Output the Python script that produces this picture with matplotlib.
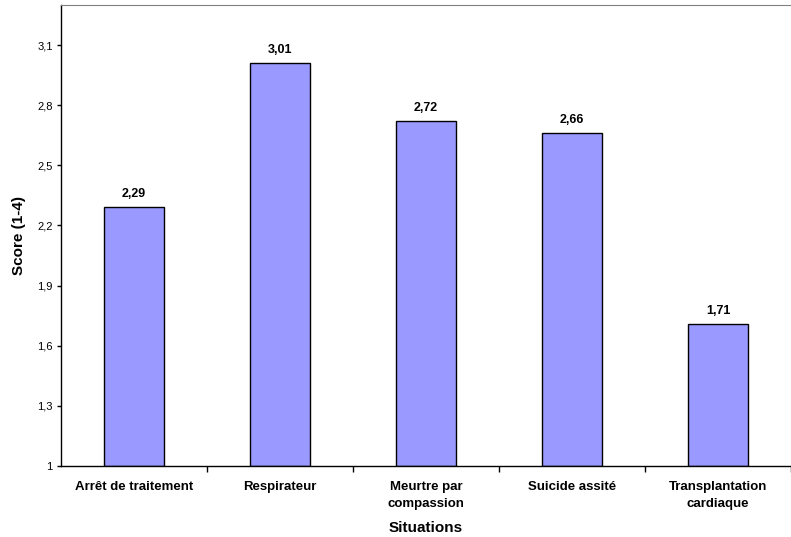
import numpy as np
import matplotlib
matplotlib.use('Agg')
import matplotlib.pyplot as plt

plt.rcParams['font.family'] = ['Liberation Sans', 'DejaVu Sans']

# Données
categories = ['Arrêt de traitement', 'Respirateur', 'Meurtre par\ncompassion',
              'Suicide assité', 'Transplantation\ncardiaque']
scores = [2.29, 3.01, 2.72, 2.66, 1.71]
y_ticks = [1, 1.3, 1.6, 1.9, 2.2, 2.5, 2.8, 3.1]

fig = plt.figure(figsize=(7.91, 5.37), dpi=100)
ax = fig.add_axes([61 / 791, (537 - 466) / 537, 730 / 791, 461 / 537])

x = np.arange(len(categories))
bars = ax.bar(x, [s - 1 for s in scores], bottom=1, width=0.407,
              color='#9999FF', edgecolor='black', linewidth=1, zorder=2)

for xi, s in zip(x, scores):
    ax.annotate(f'{s:.2f}'.replace('.', ','), (xi, s), xytext=(0, 5),
                textcoords='offset points', ha='center', va='bottom',
                fontsize=9, fontweight='bold')

ax.set_xlim(-0.5, -0.5 + 730 / 148.3)
ax.set_ylim(1, 3.3)

ax.set_yticks(y_ticks)
ax.set_yticklabels([f'{t:g}'.replace('.', ',') for t in y_ticks], fontsize=8)

# étiquettes au centre, tirets aux limites des catégories
ax.set_xticks(x)
ax.set_xticklabels(categories, fontsize=9.5, fontweight='bold', linespacing=1.55)
ax.tick_params(axis='x', which='major', length=0, pad=11)
ax.set_xticks(np.arange(0.5, len(categories), 1), minor=True)
ax.tick_params(axis='x', which='minor', length=4, direction='out', width=1)
ax.tick_params(axis='y', length=3, direction='out', width=1, pad=3)

ax.spines['right'].set_visible(False)
ax.spines['top'].set_color('#808080')
for side in ['left', 'bottom']:
    ax.spines[side].set_color('black')
    ax.spines[side].set_linewidth(1)

ax.set_xlabel('Situations', fontsize=11, fontweight='bold', labelpad=8)
ax.set_ylabel('Score (1-4)', fontsize=11, fontweight='bold', labelpad=8)

fig.savefig('out.png', dpi=100)
